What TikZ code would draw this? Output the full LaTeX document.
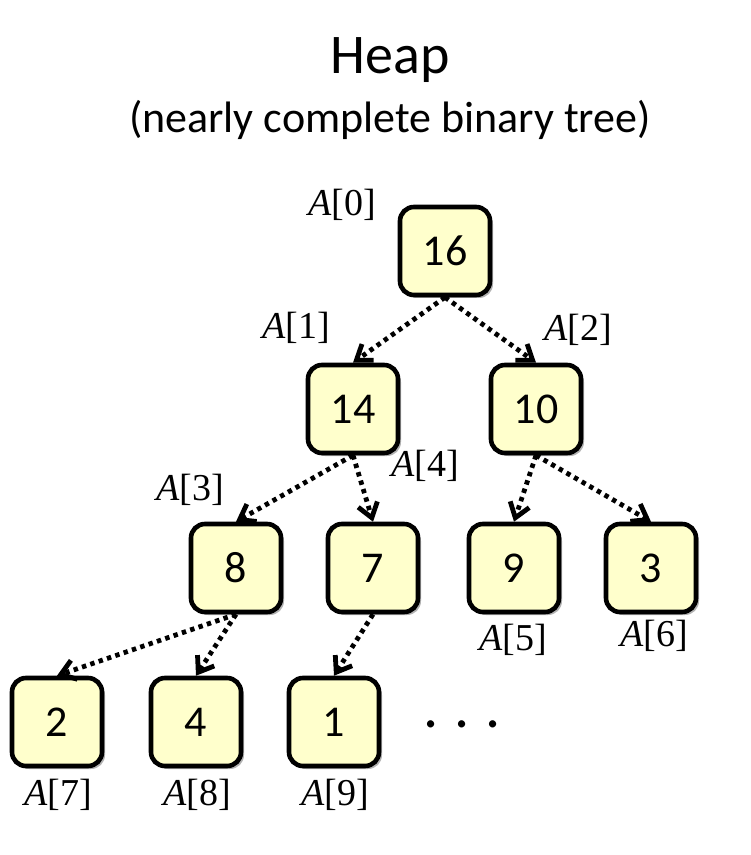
\documentclass[tikz,border=0pt]{standalone}
\usepackage{fontspec}
\setmainfont{Carlito}
\newfontfamily\idxfont{Liberation Serif}
\usetikzlibrary{arrows.meta,shadows}
\definecolor{heapfill}{RGB}{255,255,204}
\newcommand{\arr}[1]{{\itshape A}[#1]}

\begin{document}
\begin{tikzpicture}[x=0.5pt,y=-0.5pt,
		heapnode/.style={draw,line width=2.3pt,rounded corners=7pt,fill=heapfill,minimum width=45pt,minimum height=44pt,inner sep=0pt,font=\fontsize{22}{26}\selectfont,drop shadow={shadow xshift=1.5pt,shadow yshift=-1.5pt,opacity=0.3,fill=black}},
		idx/.style={font=\idxfont\fontsize{19}{22}\selectfont},
		link/.style={line width=2.4pt,dash pattern=on 2.2pt off 2.2pt,-{Straight Barb[length=7pt,width=10pt]}}]
		\useasboundingbox (0,0) rectangle (750,855);
		\node[font=\fontsize{28}{32}\selectfont] (title) at (390,60) {Heap};
		\node[font=\fontsize{22}{26}\selectfont] (subtitle) at (390,120) {(nearly complete binary tree)};
		% tree levels
		\node[heapnode] (n0) at (445,251) {16};
		\node[heapnode] (n1) at (353,409) {14};
		\node[heapnode] (n2) at (536,409) {10};
		\node[heapnode] (n3) at (236,568) {8};
		\node[heapnode] (n4) at (373,568) {7};
		\node[heapnode] (n5) at (514,568) {9};
		\node[heapnode] (n6) at (651,568) {3};
		\node[heapnode] (n7) at (57,722) {2};
		\node[heapnode] (n8) at (196,722) {4};
		\node[heapnode] (n9) at (334,722) {1};
		\node[font=\fontsize{30}{34}\selectfont] (more) at (462,724) {.\hskip 8pt.\hskip 8pt.};
		% array indices
		\node[idx] (a0) at (342,205) {\arr{0}};
		\node[idx] (a1) at (296,328) {\arr{1}};
		\node[idx] (a2) at (578,330) {\arr{2}};
		\node[idx] (a3) at (190,490) {\arr{3}};
		\node[idx] (a4) at (425,466) {\arr{4}};
		\node[idx] (a5) at (513,640) {\arr{5}};
		\node[idx] (a6) at (654,636) {\arr{6}};
		\node[idx] (a7) at (58,795) {\arr{7}};
		\node[idx] (a8) at (197,795) {\arr{8}};
		\node[idx] (a9) at (335,795) {\arr{9}};
		\foreach \p/\c in {n0/n1,n0/n2,n1/n3,n1/n4,n2/n5,n2/n6,n3/n7,n3/n8,n4/n9}
			\draw[link] (\p.south) -- (\c.north);
\end{tikzpicture}
\end{document}
